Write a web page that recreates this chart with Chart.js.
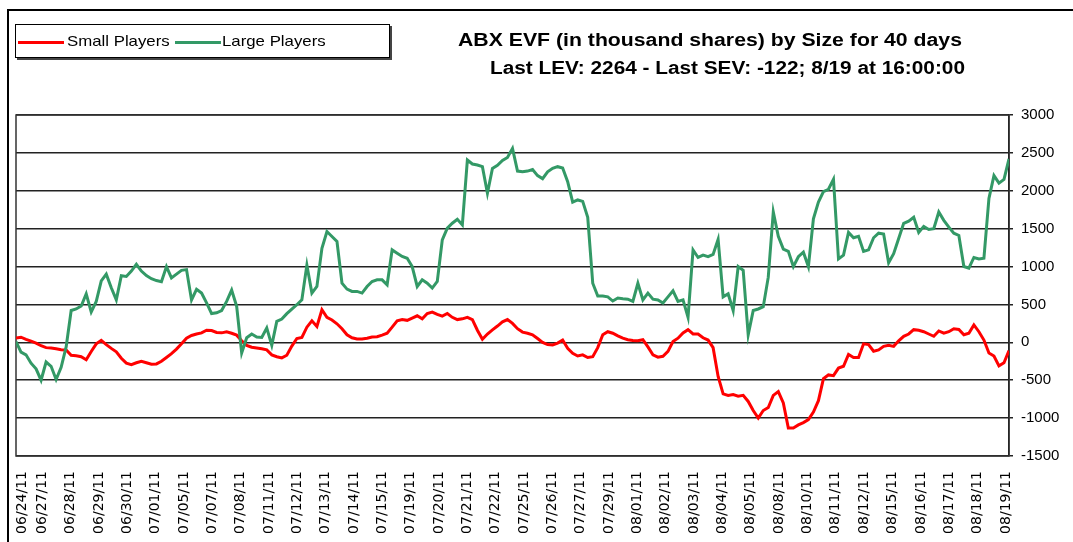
<!DOCTYPE html>
<html>
<head>
<meta charset="utf-8">
<script src="https://cdn.jsdelivr.net/npm/chart.js@4.4.1/dist/chart.umd.min.js"></script>
<style>
  html, body { margin: 0; padding: 0; background: #fff; }
  #wrap { position: relative; width: 1073px; height: 542px; overflow: hidden; font-family: "Liberation Sans", Arial, sans-serif; }
  #frame { position: absolute; left: 7px; top: 9px; width: 1200px; height: 700px; border-left: 2px solid #000; border-top: 2px solid #000; }
  #myChart { position: absolute; left: 0; top: 0; }
  #legend { position: absolute; left: 15px; top: 24px; width: 373px; height: 32px; border: 1px solid #000; box-shadow: 2px 2px 0 #444; background: #fff; }
  .swatch { position: absolute; top: 16px; height: 3px; width: 46px; }
  .ltext { position: absolute; top: 7px; font-size: 15px; color: #000; white-space: nowrap; transform: scaleX(1.12); transform-origin: left center; }
  .title { position: absolute; font-weight: bold; font-size: 18px; color: #000; white-space: nowrap; transform-origin: left center; }
</style>
</head>
<body>
<div id="wrap">
  <div id="frame"></div>
  <canvas id="myChart" width="1073" height="542"></canvas>
  <div id="legend">
    <span class="swatch" style="left:2px;background:#ff0000"></span>
    <span class="ltext" style="left:51px">Small Players</span>
    <span class="swatch" style="left:159px;background:#339966"></span>
    <span class="ltext" style="left:206px">Large Players</span>
  </div>
  <div class="title" style="left:458px;top:30px;transform:scaleX(1.18)">ABX EVF (in thousand shares) by Size for 40 days</div>
  <div class="title" style="left:490px;top:58px;transform:scaleX(1.155)">Last LEV: 2264 - Last SEV: -122; 8/19 at 16:00:00</div>
</div>
<script>
// ----------------------------
// data (thousand shares)
// ----------------------------
const dateLabels = ['06/24/11', '06/27/11', '06/28/11', '06/29/11', '06/30/11', '07/01/11', '07/05/11', '07/07/11',
    '07/08/11', '07/11/11', '07/12/11', '07/13/11', '07/14/11', '07/15/11', '07/19/11', '07/20/11', '07/21/11',
    '07/22/11', '07/25/11', '07/26/11', '07/27/11', '07/29/11', '08/01/11', '08/02/11', '08/03/11', '08/04/11',
    '08/05/11', '08/08/11', '08/10/11', '08/11/11', '08/12/11', '08/15/11', '08/16/11', '08/17/11', '08/18/11',
    '08/19/11'];

const yTicks = [-1500, -1000, -500, 0, 500, 1000, 1500, 2000, 2500, 3000];

const smallPlayers = [
    57, 68, 40, 15, -10, -45, -70, -75, -85, -97,
    -100, -170, -178, -190, -230, -120, -20, 26, -30, -80,
    -125, -210, -275, -294, -270, -250, -270, -290, -285, -250,
    -200, -150, -90, -20, 55, 90, 110, 125, 160, 155,
    130, 125, 140, 120, 95, 20, -40, -65, -75, -85,
    -100, -165, -190, -205, -170, -50, 50, 65, 200, 285,
    210, 430, 330, 295, 245, 180, 100, 60, 44, 44,
    55, 70, 75, 95, 120, 200, 285, 300, 290, 320,
    350, 310, 380, 400, 370, 345, 380, 330, 300, 310,
    330, 300, 160, 40, 110, 165, 215, 270, 300, 250,
    180, 135, 120, 100, 50, 0, -30, -35, -10, 30,
    -80, -145, -180, -165, -200, -190, -70, 100, 140, 120,
    85, 55, 35, 25, 20, 35, -60, -165, -195, -185,
    -120, 10, 55, 125, 167, 110, 110, 60, 30, -70,
    -450, -680, -700, -690, -710, -700, -780, -900, -1000, -900,
    -860, -700, -650, -800, -1130, -1130, -1090, -1060, -1020, -920,
    -770, -480, -430, -440, -340, -316, -160, -200, -200, -20,
    -30, -118, -100, -53, -40, -53, 20, 79, 110, 167,
    160, 140, 110, 80, 150, 120, 140, 180, 170, 100,
    120, 230, 140, 30, -140, -180, -310, -270, -110
];

const largePlayers = [
    10, -130, -165, -275, -350, -500, -260, -316, -490, -330,
    -60, 420, 440, 480, 640, 400, 540, 810, 900, 720,
    560, 880, 870, 940, 1030, 940, 880, 840, 815, 800,
    1000, 850, 900, 950, 960, 560, 700, 650, 520, 380,
    390, 420, 540, 690, 474, -140, 60, 110, 70, 65,
    190, -40, 277, 307, 378, 439, 496, 562, 1020, 650,
    737, 1242, 1462, 1396, 1330, 781, 702, 672, 672, 650,
    737, 803, 825, 825, 760, 1220, 1177, 1133, 1110, 1000,
    737, 825, 781, 716, 803, 1352, 1506, 1572, 1624, 1550,
    2406, 2353, 2340, 2318, 1967, 2296, 2335, 2400, 2440, 2560,
    2260, 2250, 2260, 2280, 2200, 2160, 2250, 2296, 2318, 2300,
    2120, 1850, 1879, 1860, 1650, 780, 610, 610, 600, 545,
    584, 575, 570, 540, 780, 560, 650, 570, 560, 520,
    600, 680, 540, 560, 330, 1220, 1120, 1150, 1130, 1160,
    1360, 600, 640, 420, 1000, 950, 100, 420, 440, 470,
    860, 1720, 1400, 1230, 1200, 1000, 1130, 1190, 1000, 1630,
    1850, 1990, 2020, 2150, 1100, 1150, 1450, 1380, 1400, 1200,
    1220, 1380, 1440, 1430, 1050, 1170, 1370, 1570, 1600, 1650,
    1450, 1530, 1490, 1500, 1720, 1610, 1520, 1440, 1410, 1000,
    980, 1120, 1100, 1110, 1900, 2200, 2100, 2150, 2420
];

// x axis runs in "session" units; 06/24 is a partial first day
const X_MAX = 35.04;
const tickPos = dateLabels.map((d, k) => k === 0 ? 0.22 : k - 0.07);
const step = X_MAX / (smallPlayers.length - 1);
const toPoints = arr => arr.map((v, i) => ({ x: i * step, y: v }));

// plot area box
const plotBox = {
    id: 'plotBox',
    beforeDatasetsDraw(chart) {
        const { ctx, chartArea: a } = chart;
        ctx.save();
        ctx.strokeStyle = '#333';
        ctx.lineWidth = 1.5;
        ctx.strokeRect(a.left, a.top, a.right - a.left, a.bottom - a.top);
        ctx.restore();
    }
};

const ctx = document.getElementById('myChart').getContext('2d');
const chart = new Chart(ctx, {
    type: 'line',
    data: {
        datasets: [
            {
                label: 'Small Players',
                data: toPoints(smallPlayers),
                borderColor: '#ff0000',
                borderWidth: 3,
                pointRadius: 0,
                tension: 0,
                order: 1
            },
            {
                label: 'Large Players',
                data: toPoints(largePlayers),
                borderColor: '#339966',
                borderWidth: 3,
                pointRadius: 0,
                tension: 0,
                order: 0
            }
        ]
    },
    options: {
        responsive: false,
        animation: false,
        layout: { padding: { left: 16, top: 115, right: 0, bottom: 0 } },
        plugins: {
            legend: { display: false },
            tooltip: { enabled: false }
        },
        scales: {
            x: {
                type: 'linear',
                min: 0,
                max: X_MAX,
                afterBuildTicks: s => { s.ticks = tickPos.map(v => ({ value: v })); },
                afterFit: s => { s.height = 86; },
                grid: { display: false, drawTicks: false },
                border: { display: false },
                ticks: {
                    autoSkip: false,
                    minRotation: 90,
                    maxRotation: 90,
                    padding: 15,
                    color: '#000',
                    font: { family: 'DejaVu Sans', size: 14 },
                    callback: (v, i) => dateLabels[i]
                }
            },
            y: {
                position: 'right',
                min: yTicks[0],
                max: yTicks[yTicks.length - 1],
                afterBuildTicks: s => { s.ticks = yTicks.map(v => ({ value: v })); },
                afterFit: s => { s.width = 64; },
                grid: { color: '#222', lineWidth: 1.5, tickLength: 4 },
                border: { color: '#000', width: 1.5 },
                ticks: {
                    color: '#000',
                    padding: 8,
                    font: { family: 'Liberation Sans', size: 15 },
                    callback: v => String(v)
                }
            }
        }
    },
    plugins: [plotBox]
});
</script>
</body>
</html>
